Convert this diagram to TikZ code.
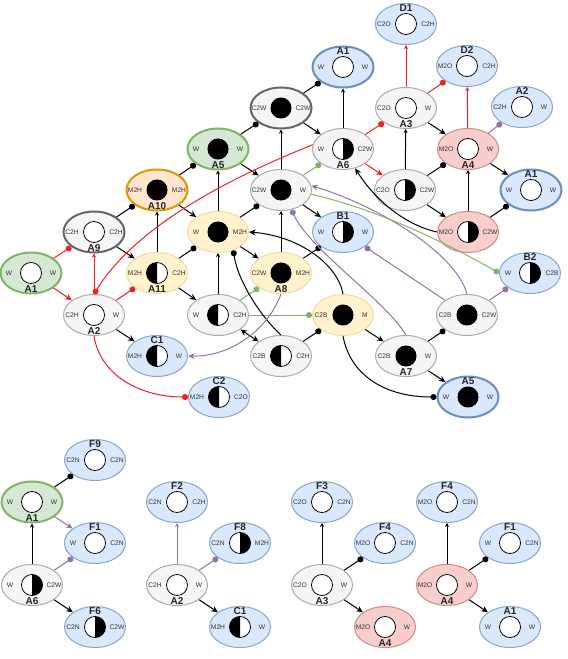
\documentclass[tikz,border=0pt]{standalone}
\usepackage{fontspec}
\setmainfont{Liberation Sans}
\usepackage{xcolor}
\usepackage{tikz}
\usetikzlibrary{arrows.meta,shapes.geometric}

\definecolor{bluefill}{HTML}{DAE8FC}
\definecolor{blueline}{HTML}{6C8EBF}
\definecolor{grayfill}{HTML}{F5F5F5}
\definecolor{grayline}{HTML}{666666}
\definecolor{greenfill}{HTML}{D5E8D4}
\definecolor{greenline}{HTML}{82B366}
\definecolor{pinkfill}{HTML}{F8CECC}
\definecolor{pinkline}{HTML}{D08A88}
\definecolor{yellowfill}{HTML}{FFF2CC}
\definecolor{yellowline}{HTML}{F0DCA0}
\definecolor{orangefill}{HTML}{FFE6CC}
\definecolor{orangeline}{HTML}{D79B00}
\definecolor{edgered}{HTML}{F02020}
\definecolor{edgepurple}{HTML}{9673A6}

\begin{document}
\begin{tikzpicture}[x=0.75pt,y=-0.75pt]

\tikzstyle{st} = [ellipse, minimum width=45.75pt, minimum height=30.75pt, inner sep=0pt, line width=0.75pt]
\tikzstyle{blu} = [st, draw=blueline!80, fill=bluefill]
\tikzstyle{bluthick} = [st, draw=blueline, fill=bluefill, line width=1.5pt]
\tikzstyle{gry} = [st, draw=grayline!55, fill=grayfill]
\tikzstyle{grythick} = [st, draw=grayline, fill=grayfill, line width=1.5pt]
\tikzstyle{grn} = [st, draw=greenline, fill=greenfill, line width=1.5pt]
\tikzstyle{pnk} = [st, draw=pinkline, fill=pinkfill]
\tikzstyle{ylw} = [st, draw=yellowline, fill=yellowfill]
\tikzstyle{org} = [st, draw=orangeline, fill=orangefill, line width=1.5pt]
\tikzstyle{side} = [font=\fontsize{5}{5}\selectfont, text=black!80, inner sep=0pt]
\tikzstyle{lab} = [font=\bfseries\fontsize{7.5}{7.5}\selectfont, text=black!85, inner sep=0pt]
\tikzset{
  ltext/.style={label={[side,xshift=-16.5pt]center:#1}},
  rtext/.style={label={[side,xshift=16.5pt]center:#1}},
  toplab/.style={label={[lab,yshift=12pt]center:#1}},
  botlab/.style={label={[lab,yshift=-12pt]center:#1}},
  full/.style={path picture={\fill[black] (path picture bounding box.center) circle (7.9pt);}},
  hole/.style={path picture={\draw[black,fill=white,line width=0.6pt] (path picture bounding box.center) circle (7.9pt);}},
  halfr/.style={path picture={
    \draw[black,fill=white,line width=0.6pt] (path picture bounding box.center) circle (7.9pt);
    \fill[black] (path picture bounding box.center) ++(0pt,7.9pt) arc[start angle=90,end angle=-90,radius=7.9pt] -- cycle;}},
  halfl/.style={path picture={
    \draw[black,fill=white,line width=0.6pt] (path picture bounding box.center) circle (7.9pt);
    \fill[black] (path picture bounding box.center) ++(0pt,7.9pt) arc[start angle=90,end angle=270,radius=7.9pt] -- cycle;}},
}
\tikzstyle{ln} = [draw=black, line width=0.75pt]
\tikzstyle{redln} = [draw=edgered, line width=0.75pt]
\tikzstyle{purpln} = [draw=edgepurple, line width=0.75pt]
\tikzstyle{grnln} = [draw=greenline, line width=0.75pt]
\tikzstyle{dothead} = [-{Circle[length=4.5pt]}]
\tikzstyle{arrhead} = [-{Stealth[length=5pt,width=4.5pt]}]
\tikzstyle{tinyhead} = [-{Stealth[length=3pt,width=3pt]}]

\useasboundingbox (0,0) rectangle (567,659);

% main graph
\node[blu, hole, ltext=C2O, rtext=C2H, toplab=D1] (d1) at (406,24) {};
\node[bluthick, hole, ltext=W, rtext=W, toplab=A1] (a1t) at (343,67) {};
\node[blu, hole, ltext=M2O, rtext=C2H, toplab=D2] (d2) at (467,66) {};
\node[blu, hole, ltext=C2H, rtext=W, toplab=A2] (a2r) at (522,107) {};
\node[grythick, full, ltext=C2W, rtext=C2W] (cww) at (281,108) {};
\node[gry, hole, ltext=C2O, rtext=W, botlab=A3] (a3) at (406,108) {};
\node[grn, full, ltext=W, rtext=W, botlab=A5] (a5) at (218,149) {};
\node[gry, halfr, ltext=W, rtext=C2W, botlab=A6] (a6) at (343,149) {};
\node[pnk, hole, ltext=M2O, rtext=W, botlab=A4] (a4) at (468,149) {};
\node[bluthick, hole, ltext=W, rtext=W, toplab=A1] (a1r) at (531,190) {};
\node[org, full, ltext=M2H, rtext=M2H, botlab=A10] (a10) at (157,190) {};
\node[gry, full, ltext=C2W, rtext=W] (cw) at (281,190) {};
\node[gry, halfr, ltext=C2O, rtext=C2W] (coh) at (405,190) {};
\node[grythick, hole, ltext=C2H, rtext=C2H, botlab=A9] (a9) at (94,232) {};
\node[ylw, full, ltext=W, rtext=M2H] (wm) at (218,232) {};
\node[blu, halfr, ltext=W, rtext=W, toplab=B1] (b1) at (343,232) {};
\node[pnk, halfr, ltext=M2O, rtext=C2W] (pk) at (468,232) {};
\node[grn, hole, ltext=W, rtext=W, botlab=A1] (a1g) at (31,273) {};
\node[ylw, halfl, ltext=M2H, rtext=C2H, botlab=A11] (a11) at (157,273) {};
\node[ylw, full, ltext=C2W, rtext=M2H, botlab=A8] (a8) at (281,273) {};
\node[blu, halfr, ltext=W, rtext=C2B, toplab=B2] (b2) at (530,273) {};
\node[gry, hole, ltext=C2H, rtext=W, botlab=A2] (a2) at (94,315) {};
\node[gry, halfl, ltext=W, rtext=C2H] (wh) at (218,315) {};
\node[ylw, full, ltext=C2B, rtext=M] (cbm) at (343,315) {};
\node[gry, full, ltext=C2B, rtext=C2W] (cbw) at (467,315) {};
\node[blu, halfl, ltext=M2H, rtext=W, toplab=C1] (c1) at (157,356) {};
\node[gry, halfl, ltext=C2B, rtext=C2H] (bh) at (281,356) {};
\node[gry, full, ltext=C2B, rtext=W, botlab=A7] (a7) at (406,356) {};
\node[blu, halfl, ltext=M2H, rtext=C2O, toplab=C2] (c2) at (219,397) {};
\node[bluthick, full, ltext=W, rtext=W, toplab=A5] (a5b) at (468,397) {};

\draw[ln, dothead] (a5) -- (cww);
\draw[ln, arrhead] (cww) -- (a6);
\draw[ln, dothead] (cww) -- (a1t);
\draw[ln, tinyhead] (a6) -- (a1t);
\draw[ln, tinyhead] (cw) -- (cww);
\draw[redln, dothead] (a6) -- (a3);
\draw[redln, arrhead] (a6) -- (coh);
\draw[redln, tinyhead] (a3) -- (d1);
\draw[redln, dothead] (a3) -- (d2);
\draw[ln, arrhead] (a3) -- (a4);
\draw[ln, tinyhead] (coh) -- (a3);
\draw[redln, tinyhead] (a4) -- (d2);
\draw[purpln, dothead] (a4) -- (a2r);
\draw[ln, arrhead] (a4) -- (a1r);
\draw[ln, dothead] (coh) -- (a4);
\draw[ln, arrhead] (coh) -- (pk);
\draw[ln, tinyhead] (pk) -- (a4);
\draw[ln, dothead] (pk) -- (a1r);
\draw[ln, arrhead] (pk.west) .. controls (405,225) and (375,200) .. (a6);
\draw[ln, arrhead] (a5) -- (cw);
\draw[grnln, dothead] (cw) -- (a6);
\draw[ln, arrhead] (cw) -- (b1);
\draw[ln, dothead] (wm) -- (cw);
\draw[ln, tinyhead] (wm) -- (a5);
\draw[ln, dothead] (a10) -- (a5);
\draw[ln, arrhead] (a10) -- (wm);
\draw[ln, dothead] (a9) -- (a10);
\draw[ln, tinyhead] (a11) -- (a10);
\draw[ln, arrhead] (a9) -- (a11);
\draw[ln, dothead] (a11) -- (wm);
\draw[ln, arrhead] (a11) -- (wh);
\draw[redln, dothead] (a1g) -- (a9);
\draw[redln, arrhead] (a1g) -- (a2);
\draw[redln, tinyhead] (a2) -- (a9);
\draw[redln, dothead] (a2) -- (a11);
\draw[redln, dothead] (a6.172) .. controls (245,172) and (140,220) .. (a2.north);
\draw[ln, arrhead] (a2) -- (c1);
\draw[redln, dothead] (a2.south) .. controls (100,375) and (140,397) .. (c2.west);
\draw[ln, arrhead] (wm) -- (a8);
\draw[ln, tinyhead] (a8) -- (cw);
\draw[ln, dothead] (a8) -- (b1);
\draw[ln, tinyhead] (wh) -- (wm);
\draw[grnln, dothead] (wh) -- (a8);
\draw[grnln, dothead] (wh) -- (cbm);
\draw[ln, {Stealth[length=5pt,width=4.5pt]}-{Stealth[length=5pt,width=4.5pt]}] (wh) -- (bh);
\draw[ln, dothead] (bh.north) .. controls (262,318) and (238,282) .. (wm.-50);
\draw[ln, dothead] (bh) -- (cbm);
\draw[purpln, arrhead] (a8.south) .. controls (268,330) and (230,357) .. (c1.east);
\draw[ln, arrhead] (cbm.north) .. controls (338,265) and (300,236) .. (wm.east);
\draw[ln, dothead] (cbm.south) .. controls (350,375) and (385,397) .. (a5b.west);
\draw[ln, arrhead] (cbm) -- (a7);
\draw[ln, dothead] (a7) -- (cbw);
\draw[ln, arrhead] (a7) -- (a5b);
\draw[purpln, dothead] (cbw) -- (b2);
\draw[purpln, dothead] (cbw) -- (b1);
\draw[purpln, arrhead] (cbw.north) .. controls (455,250) and (370,203) .. (cw.8);
\draw[purpln, dothead] (a7.north) .. controls (385,300) and (310,250) .. (cw.-62);
\draw[grnln, dothead] (cw.-8) .. controls (380,210) and (450,245) .. (b2.west);

% small graphs
\node[blu, hole, ltext=C2N, rtext=C2N, toplab=F9] (f9) at (95,460) {};
\node[grn, hole, ltext=W, rtext=W, botlab=A1] (g1a1) at (32,502) {};
\node[blu, hole, ltext=W, rtext=C2N, toplab=F1] (g1f1) at (95,543) {};
\node[gry, halfr, ltext=W, rtext=C2W, botlab=A6] (g1a6) at (32,585) {};
\node[blu, halfr, ltext=C2N, rtext=C2W, toplab=F6] (f6) at (95,627) {};

\node[blu, hole, ltext=C2N, rtext=C2H, toplab=F2] (f2) at (177,502) {};
\node[blu, halfr, ltext=C2N, rtext=M2H, toplab=F8] (f8) at (240,543) {};
\node[gry, hole, ltext=C2H, rtext=W, botlab=A2] (g2a2) at (177,585) {};
\node[blu, halfl, ltext=M2H, rtext=W, toplab=C1] (g2c1) at (240,627) {};

\node[blu, hole, ltext=C2O, rtext=C2N, toplab=F3] (f3) at (322,502) {};
\node[blu, hole, ltext=M2O, rtext=C2N, toplab=F4] (g3f4) at (385,543) {};
\node[gry, hole, ltext=C2O, rtext=W, botlab=A3] (g3a3) at (322,585) {};
\node[pnk, hole, ltext=M2O, rtext=W, botlab=A4] (g3a4) at (385,627) {};

\node[blu, hole, ltext=M2O, rtext=C2N, toplab=F4] (g4f4) at (447,502) {};
\node[blu, hole, ltext=W, rtext=C2N, toplab=F1] (g4f1) at (510,543) {};
\node[pnk, hole, ltext=M2O, rtext=W, botlab=A4] (g4a4) at (447,585) {};
\node[blu, hole, ltext=W, rtext=W, toplab=A1] (g4a1) at (510,627) {};

\draw[ln, dothead] (g1a1) -- (f9);
\draw[purpln, arrhead] (g1a1) -- (g1f1);
\draw[ln, tinyhead] (g1a6) -- (g1a1);
\draw[purpln, dothead] (g1a6) -- (g1f1);
\draw[ln, arrhead] (g1a6) -- (f6);
\draw[purpln, tinyhead] (g2a2) -- (f2);
\draw[purpln, dothead] (g2a2) -- (f8);
\draw[ln, arrhead] (g2a2) -- (g2c1);
\draw[ln, tinyhead] (g3a3) -- (f3);
\draw[ln, dothead] (g3a3) -- (g3f4);
\draw[ln, arrhead] (g3a3) -- (g3a4);
\draw[ln, tinyhead] (g4a4) -- (g4f4);
\draw[ln, dothead] (g4a4) -- (g4f1);
\draw[ln, arrhead] (g4a4) -- (g4a1);
\end{tikzpicture}
\end{document}
